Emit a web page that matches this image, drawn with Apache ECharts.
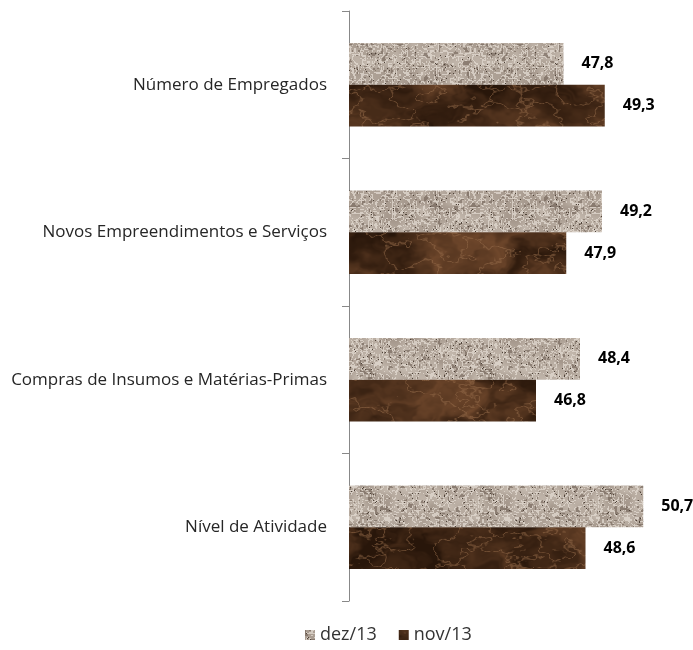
<!DOCTYPE html>
<html><head><meta charset="utf-8">
<script src="https://cdn.jsdelivr.net/npm/echarts@6/dist/echarts.min.js"></script>
<style>html,body{margin:0;padding:0;background:#fff}#c{width:693px;height:650px}</style>
</head><body><div id="c"></div>
<script>
var categories = ['Número de Empregados','Novos Empreendimentos e Serviços','Compras de Insumos e Matérias-Primas','Nível de Atividade'];
var seriesNames = ['dez/13','nov/13'];
var dez13 = [47.8, 49.2, 48.4, 50.7];
var nov13 = [49.3, 47.9, 46.8, 48.6];

// deterministic texture helpers (styling only)
function hash(x,y){var s=Math.sin(x*12.9898+y*78.233)*43758.5453;return s-Math.floor(s);}
function vnoise(x,y){var xi=Math.floor(x),yi=Math.floor(y),xf=x-xi,yf=y-yi;
  var u=xf*xf*(3-2*xf),v=yf*yf*(3-2*yf);
  var a=hash(xi,yi),b=hash(xi+1,yi),c=hash(xi,yi+1),d=hash(xi+1,yi+1);
  return a+(b-a)*u+(c-a)*v+(a-b-c+d)*u*v;}
function fbm(x,y){return 0.5*vnoise(x,y)+0.28*vnoise(x*2.1+5,y*2.1+9)+0.14*vnoise(x*4.3+2,y*4.3+1)+0.08*vnoise(x*8.7,y*8.7);}
function makeTex(w,h,fn){var cv=document.createElement('canvas');cv.width=w;cv.height=h;
  var ctx=cv.getContext('2d');var img=ctx.createImageData(w,h);
  for(var y=0;y<h;y++)for(var x=0;x<w;x++){var c=fn(x,y);var i=(y*w+x)*4;
    img.data[i]=c[0];img.data[i+1]=c[1];img.data[i+2]=c[2];img.data[i+3]=255;}
  ctx.putImageData(img,0,0);return cv;}
function mix(a,b,t){t=Math.max(0,Math.min(1,t));return [a[0]+(b[0]-a[0])*t,a[1]+(b[1]-a[1])*t,a[2]+(b[2]-a[2])*t];}
var granite = makeTex(120,120,function(x,y){
  var n=vnoise(x/2.2,y/2.2);
  var m=vnoise(x/9+4,y/9+4);
  var worm=Math.abs(n-0.5)<0.08;
  var c=mix([142,127,115],[196,185,174],m*0.6+0.4);
  if(worm)c=mix(c,[226,218,209],0.75);
  if(n<0.2)c=mix(c,[112,97,86],0.6);
  if(hash(x*3+1,y*5+2)>0.985)c=[78,66,56];
  return c;});
var marble = makeTex(700,650,function(x,y){
  var wx=x/60+1.6*fbm(x/45,y/30), wy=y/40+1.6*fbm(x/45+7,y/30+3);
  var n=fbm(wx,wy);
  var vein=Math.abs(fbm(x/25+3,y/16+11)-0.5);
  var c=mix([40,22,10],[112,72,44],(n-0.25)*1.8);
  if(vein<0.03)c=mix(c,[150,108,74],0.55*(1-vein/0.03));
  return c;});

var chart = echarts.init(document.getElementById('c'));
var FONT = 'Open Sans';
var fmt = function(p){return p.value.toFixed(1).replace('.',',');};
chart.setOption({
  animation:false,
  grid:{left:349,top:11,bottom:49,width:330,containLabel:false},
  xAxis:{type:'value',min:40,max:52,show:false},
  yAxis:{type:'category',data:categories,inverse:true,
    axisLine:{lineStyle:{color:'#888888',width:1}},
    axisTick:{show:true,length:7,lineStyle:{color:'#888888'}},
    axisLabel:{margin:22,color:'#262626',fontFamily:FONT,fontSize:17}},
  legend:{bottom:1,left:300,itemWidth:10,itemHeight:10,itemGap:22,icon:'rect',
    textStyle:{fontFamily:FONT,fontSize:18,color:'#333'},data:seriesNames},
  series:[
    {name:seriesNames[0],type:'bar',data:dez13,barWidth:41.7,barGap:'0%',
     itemStyle:{color:{image:granite,repeat:'repeat'}},
     label:{show:true,position:'right',distance:18,fontFamily:FONT,fontWeight:'bold',fontSize:16,color:'#000',formatter:fmt}},
    {name:seriesNames[1],type:'bar',data:nov13,barWidth:41.7,barGap:'0%',
     itemStyle:{color:{image:marble,repeat:'repeat'}},
     label:{show:true,position:'right',distance:18,fontFamily:FONT,fontWeight:'bold',fontSize:16,color:'#000',formatter:fmt}}
  ]
});
</script></body></html>
